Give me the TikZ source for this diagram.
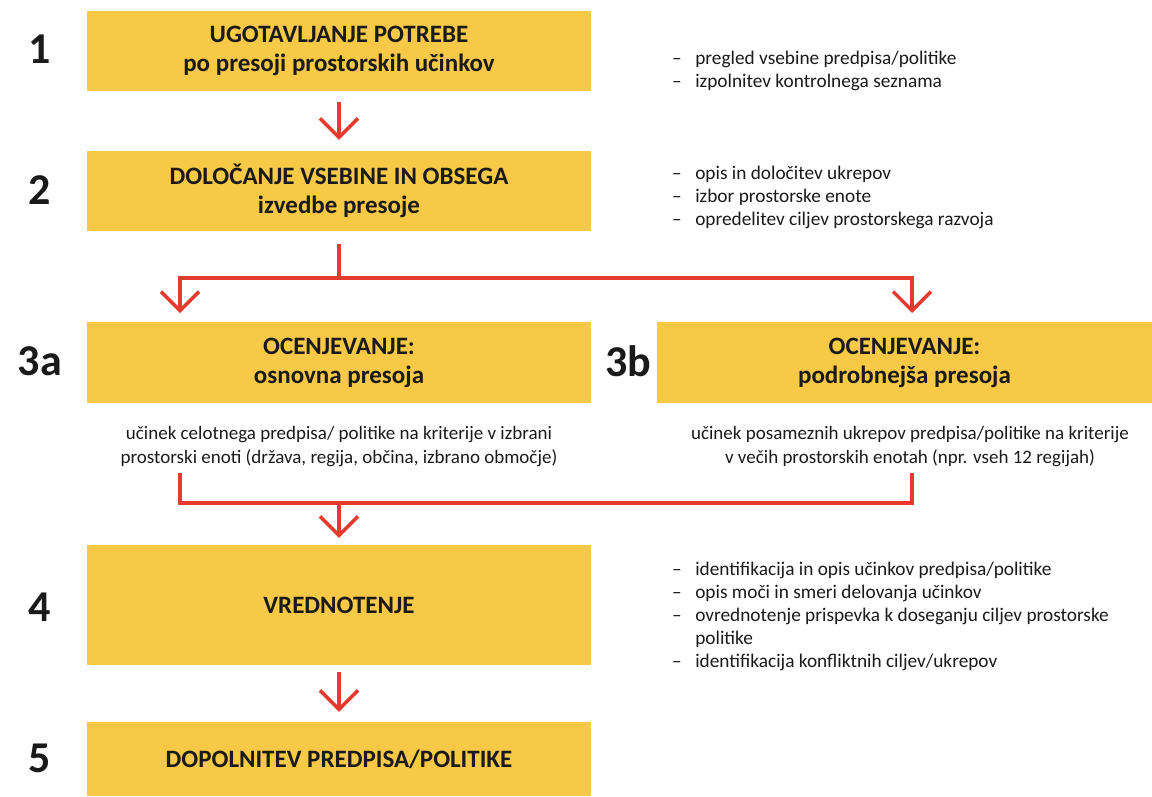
\documentclass[tikz,border=0pt]{standalone}
\usepackage{fontspec}
\setmainfont{Carlito}
\usetikzlibrary{arrows.meta}
\definecolor{boxyellow}{HTML}{F8C946}
\definecolor{arrred}{HTML}{E53B2F}
\definecolor{txt}{HTML}{1A1A1A}
\begin{document}
\begin{tikzpicture}[x=1pt,y=-1pt,
  box/.style={fill=boxyellow, draw=none, inner sep=0pt, align=center, text=txt, font=\fontsize{25}{29}\selectfont\bfseries},
  num/.style={font=\fontsize{44}{50}\selectfont\bfseries, text=txt, inner sep=0pt},
  side/.style={font=\fontsize{19.3}{23}\selectfont, text=txt, inner sep=0pt, anchor=base west},
  desc/.style={font=\fontsize{19}{24}\selectfont, text=txt, inner sep=0pt, align=center},
  link/.style={draw=arrred, line width=3.5pt},
  arr/.style={link, -{Straight Barb[length=19pt,width=38pt]}},
]
\useasboundingbox (0,0) rectangle (1152,796);
\clip (0,0) rectangle (1152,796);

% boxes
\node[box, minimum width=504pt, minimum height=80pt] (b1) at (339,51) {UGOTAVLJANJE POTREBE\\po presoji prostorskih učinkov};
\node[box, minimum width=504pt, minimum height=80pt] (b2) at (339,191) {DOLOČANJE VSEBINE IN OBSEGA\\izvedbe presoje};
\node[box, minimum width=504pt, minimum height=81pt] (b3a) at (339,362.5) {OCENJEVANJE:\\osnovna presoja};
\node[box, minimum width=495pt, minimum height=81pt] (b3b) at (904.5,362.5) {OCENJEVANJE:\\podrobnejša presoja};
\node[box, minimum width=504pt, minimum height=120pt] (b4) at (339,605) {VREDNOTENJE};
\node[box, minimum width=504pt, minimum height=74pt] (b5) at (339,759) {DOPOLNITEV PREDPISA/POLITIKE};

% step numbers
\node[num] (n1) at (40,49) {1};
\node[num] (n2) at (40,190) {2};
\node[num] (n3a) at (40,361) {3a};
\node[num] (n3b) at (628,361) {3b};
\node[num] (n4) at (40,607) {4};
\node[num] (n5) at (40,758) {5};

% side notes
\node[side] (s1) at (672,64) {\begin{tabular}[t]{@{}l@{\hspace{13.5pt}}l@{}}–&pregled vsebine predpisa/politike\\–&izpolnitev kontrolnega seznama\end{tabular}};
\node[side] (s2) at (672,179) {\begin{tabular}[t]{@{}l@{\hspace{13.5pt}}l@{}}–&opis in določitev ukrepov\\–&izbor prostorske enote\\–&opredelitev ciljev prostorskega razvoja\end{tabular}};
\node[side] (s4) at (672,575) {\begin{tabular}[t]{@{}l@{\hspace{13.5pt}}l@{}}–&identifikacija in opis učinkov predpisa/politike\\–&opis moči in smeri delovanja učinkov\\–&ovrednotenje prispevka k doseganju ciljev prostorske\\&politike\\–&identifikacija konfliktnih ciljev/ukrepov\end{tabular}};

% descriptions
\node[desc] (d3a) at (339,447) {učinek celotnega predpisa/ politike na kriterije v izbrani\\prostorski enoti (država, regija, občina, izbrano območje)};
\node[desc] (d3b) at (910,447) {učinek posameznih ukrepov predpisa/politike na kriterije\\v večih prostorskih enotah (npr. vseh 12 regijah)};

% connectors
\coordinate (j1) at (339,278);
\coordinate (ta) at (180,313);
\coordinate (tb) at (912,313);
\coordinate (la) at (180,473);
\coordinate (lb) at (912,473);
\coordinate (j2) at (339,503);

\draw[arr] ([yshift=-11pt]b1.south) -- ([yshift=11pt]b2.north);
\draw[arr] ([yshift=-13pt]b2.south) -- (j1) -| (ta);
\draw[arr] (j1) -| (tb);
\draw[link] (la) |- (lb |- j2) -- (lb);
\draw[arr] (j2) -- ([yshift=7pt]b4.north);
\draw[arr] ([yshift=-7pt]b4.south) -- ([yshift=10pt]b5.north);
\end{tikzpicture}
\end{document}
